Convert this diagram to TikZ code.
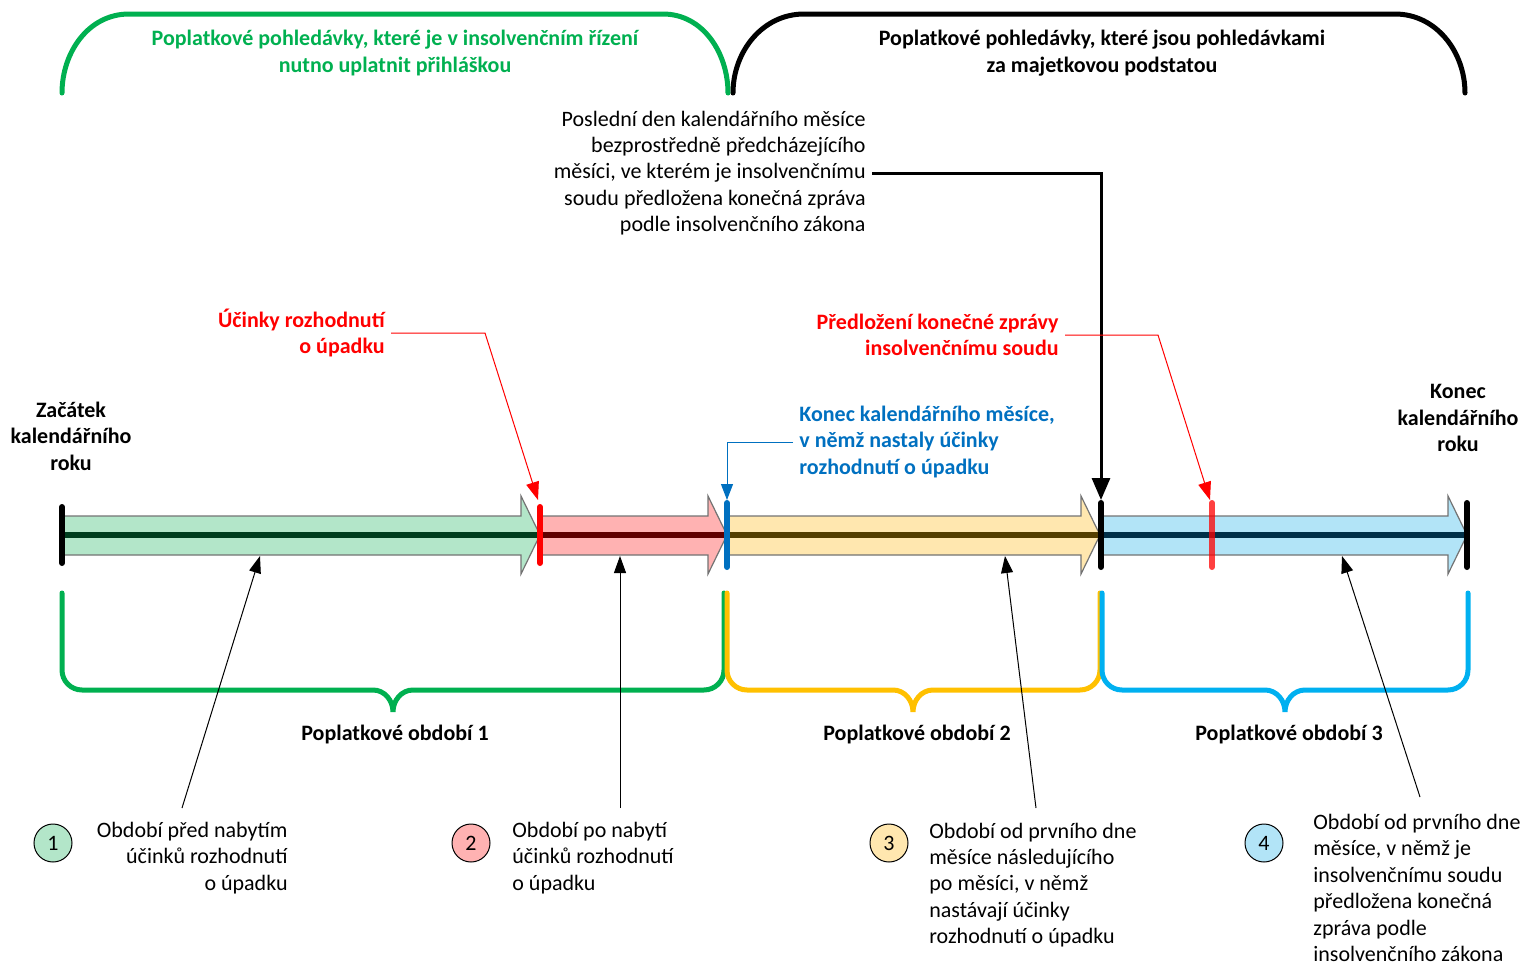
\documentclass[tikz,border=0pt]{standalone}
\usepackage{fontspec}
\setmainfont{Carlito}
\usetikzlibrary{arrows.meta}

\definecolor{brgreen}{RGB}{0,176,80}
\definecolor{bryellow}{RGB}{255,192,0}
\definecolor{brblue}{RGB}{0,176,240}
\definecolor{lblblue}{RGB}{0,112,192}
\definecolor{lblred}{RGB}{255,0,0}
\definecolor{fillgreen}{RGB}{179,230,201}
\definecolor{fillred}{RGB}{255,178,178}
\definecolor{fillyellow}{RGB}{255,231,175}
\definecolor{fillblue}{RGB}{178,228,247}
\definecolor{dkgreen}{RGB}{0,62,30}
\definecolor{dkred}{RGB}{96,0,0}
\definecolor{dkyellow}{RGB}{84,62,0}
\definecolor{dkblue}{RGB}{0,48,72}

\tikzset{
  txt/.style={font=\fontsize{11}{13.2}\selectfont, inner sep=3pt},
  bold/.style={font=\fontsize{11}{13.2}\selectfont\bfseries, inner sep=3pt},
  bracket/.style={line width=2.5pt, line cap=round},
  marker/.style={line width=3pt, line cap=round},
  pointer/.style={line width=0.5pt, -{Triangle[length=8.5pt,width=6pt]}},
  redpointer/.style={line width=0.5pt, lblred, -{Triangle[length=9pt,width=6.5pt]}},
  legend/.style={circle, draw, line width=0.5pt, minimum size=19pt, inner sep=0pt,
    font=\fontsize{11}{13.2}\selectfont}
}

\newcommand{\segarrow}[3]{%
  \draw[line width=0.6pt, black!55, fill=#3] (#1,516) -- ({#2-19},516) -- ({#2-19},496)
    -- (#2,535) -- ({#2-19},574) -- ({#2-19},555) -- (#1,555) -- cycle;}
\newcommand{\bracebelow}[4]{%
  \draw[bracket, #4] (#1,593) -- (#1,670) to[out=-90,in=180] ({#1+20},690)
    -- ({#2-20},690) to[out=0,in=90] (#2,712) to[out=90,in=180] ({#2+20},690)
    -- ({#3-20},690) to[out=0,in=-90] (#3,670) -- (#3,593);}

\begin{document}
\begin{tikzpicture}[x=0.5pt, y=-0.5pt]
\useasboundingbox (0,0) rectangle (1528,965);

\draw[bracket, brgreen] (62,93) to[out=90,in=180] (129,14) -- (663,14) to[out=0,in=90] (728,93);
\draw[bracket, black] (733,93) to[out=90,in=180] (804,14) -- (1395,14) to[out=0,in=90] (1465,93);
\node[bold, text=brgreen, align=center] (hdrA) at (395,53) {Poplatkové pohledávky, které je v insolvenčním řízení\\nutno uplatnit přihláškou};
\node[bold, align=center] (hdrB) at (1102,53) {Poplatkové pohledávky, které jsou pohledávkami\\za majetkovou podstatou};

\segarrow{62}{540}{fillgreen}
\segarrow{540}{727}{fillred}
\segarrow{727}{1100}{fillyellow}
\segarrow{1100}{1467}{fillblue}

\draw[line width=3pt, dkgreen] (62,535) -- (540,535);
\draw[line width=3pt, dkred] (540,535) -- (727,535);
\draw[line width=3pt, dkyellow] (727,535) -- (1100,535);
\draw[line width=3pt, dkblue] (1100,535) -- (1467,535);

\draw[marker, black] (62,507) -- (62,563);
\draw[marker, lblred] (540,507) -- (540,563);
\draw[marker, lblblue] (727,503) -- (727,567);
\draw[marker, black] (1101,503) -- (1101,567);
\draw[marker, lblred, opacity=0.75] (1212,503) -- (1212,567);
\draw[marker, black] (1467,503) -- (1467,567);

\coordinate (mk1) at (538,500);
\coordinate (mk2) at (727,500);
\coordinate (mk3) at (1101,500);
\coordinate (mk4) at (1210,500);

\node[bold, align=center] (start) at (71,436) {Začátek\\kalendářního\\roku};
\node[bold, align=center] (end) at (1458,418) {Konec\\kalendářního\\roku};

\node[txt, align=right, anchor=east] (lastday) at (872,173) {Poslední den kalendářního měsíce\\bezprostředně předcházejícího\\měsíci, ve kterém je insolvenčnímu\\soudu předložena konečná zpráva\\podle insolvenčního zákona};
\draw[line width=1.5pt, -{Triangle[length=11pt,width=9pt]}] (lastday.east) -- (1101,173) -- (mk3);

\node[bold, text=lblred, align=right, anchor=east] (effect) at (391,333) {Účinky rozhodnutí\\o úpadku};
\draw[redpointer] (effect.east) -- (485,333) -- (mk1);

\node[bold, text=lblred, align=right, anchor=east] (report) at (1065,335) {Předložení konečné zprávy\\insolvenčnímu soudu};
\draw[redpointer] (report.east) -- (1158,335) -- (mk4);

\node[bold, text=lblblue, align=left, anchor=west] (monthend) at (793,442) {Konec kalendářního měsíce,\\v němž nastaly účinky\\rozhodnutí o úpadku};
\draw[line width=0.5pt, lblblue, -{Triangle[length=8pt,width=6pt]}] (monthend.west) -- (727,442) -- (mk2);

\bracebelow{62}{393}{724}{brgreen}
\bracebelow{727}{913}{1100}{bryellow}
\bracebelow{1102}{1285}{1468}{brblue}
\node[bold] (per1) at (395,734) {Poplatkové období 1};
\node[bold] (per2) at (917,734) {Poplatkové období 2};
\node[bold] (per3) at (1289,734) {Poplatkové období 3};

\node[legend, fill=fillgreen] (n1) at (53,843) {1};
\node[legend, fill=fillred] (n2) at (471,843) {2};
\node[legend, fill=fillyellow] (n3) at (889,843) {3};
\node[legend, fill=fillblue] (n4) at (1264,843) {4};

\node[txt, align=right, anchor=east] (txt1) at (294,858) {Období před nabytím\\účinků rozhodnutí\\o úpadku};
\node[txt, align=left, anchor=west] (txt2) at (506,858) {Období po nabytí\\účinků rozhodnutí\\o úpadku};
\node[txt, align=left, anchor=west] (txt3) at (923,885) {Období od prvního dne\\měsíce následujícího\\po měsíci, v němž\\nastávají účinky\\rozhodnutí o úpadku};
\node[txt, align=left, anchor=west] (txt4) at (1307,888) {Období od prvního dne\\měsíce, v němž je\\insolvenčnímu soudu\\předložena konečná\\zpráva podle\\insolvenčního zákona};

\coordinate (p1) at (182,808);
\coordinate (p2) at (620,808);
\coordinate (p3) at (1036,808);
\coordinate (p4) at (1420,797);
\draw[pointer] (p1) -- (260,556);
\draw[pointer] (p2) -- (620,556);
\draw[pointer] (p3) -- (1005,556);
\draw[pointer] (p4) -- (1342,556);
\end{tikzpicture}
\end{document}
